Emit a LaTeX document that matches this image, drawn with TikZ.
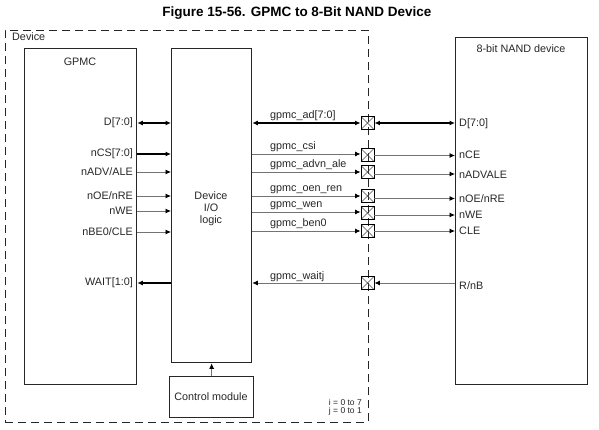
\documentclass[tikz,border=0pt]{standalone}
\usepackage{fontspec}
\setmainfont{Liberation Sans}
\usetikzlibrary{arrows.meta}
\tikzset{
  >={Latex[length=5.5pt,width=5pt,color=black]},
  box/.style={draw=black!85, line width=1.3pt, inner sep=0pt, anchor=north west},
  lbl/.style={font=\fontsize{10.8}{12}\selectfont, inner sep=0pt, text=black!85},
  sig/.style={draw=black!55, line width=0.8pt, ->},
  bus/.style={draw=black, line width=1.6pt},
  pad/.style={draw=black, line width=0.9pt, minimum width=13pt, minimum height=13pt, inner sep=0pt,
    path picture={\draw[black!70, line width=0.5pt]
      (path picture bounding box.north west) -- (path picture bounding box.south east)
      (path picture bounding box.north east) -- (path picture bounding box.south west);}}
}
\begin{document}
\begin{tikzpicture}[x=1pt,y=-1pt]
\useasboundingbox (0,0) rectangle (599,430);
% title
\node[font=\fontsize{13.5}{15}\selectfont\bfseries, inner sep=0pt] (title) at (297,13) {Figure 15-56. GPMC to 8-Bit NAND Device};
% device dashed frame
\node[draw=black!85, line width=0.9pt, dash pattern=on 8pt off 5pt, anchor=north west, inner sep=0pt,
      minimum width=363pt, minimum height=392pt] (dev) at (5,30) {};
\node[lbl, anchor=west] (devlbl) at (12,37) {Device};
% boxes
\node[box, minimum width=112pt, minimum height=336pt] (gpmc) at (24,48) {};
\node[lbl] (gpmclbl) at (80,62) {GPMC};
\node[box, minimum width=80pt, minimum height=314pt] (io) at (171,48) {};
\node[lbl, align=center, font=\fontsize{10.8}{12}\selectfont] (iolbl) at (211,209) {Device\\I/O\\logic};
\node[box, minimum width=84pt, minimum height=41pt] (ctrl) at (169,376) {};
\node[lbl] (ctrllbl) at (211,396.5) {Control module};
\node[box, minimum width=132pt, minimum height=347pt] (nand) at (455,37) {};
\node[lbl] (nandlbl) at (521,49) {8-bit NAND device};
\node[font=\fontsize{8.5}{8.5}\selectfont, align=right, inner sep=0pt, anchor=north east, text=black!85] (ij) at (362,399) {i = 0 to 7\\j = 0 to 1};
\draw[sig] (ctrl.north) -- (io.south);
% GPMC side labels
\node[lbl, anchor=east] (lD)   at (133,123) {D[7:0]};
\node[lbl, anchor=east] (lCS)  at (133,154) {nCS[7:0]};
\node[lbl, anchor=east] (lADV) at (133,172) {nADV/ALE};
\node[lbl, anchor=east] (lOE)  at (133,196) {nOE/nRE};
\node[lbl, anchor=east] (lWE)  at (133,211) {nWE};
\node[lbl, anchor=east] (lBE)  at (133,232) {nBE0/CLE};
\node[lbl, anchor=east] (lW)   at (133,283) {WAIT[1:0]};
\draw[bus, <->] (gpmc.east |- lD) -- (io.west |- lD);
\draw[bus, ->] (gpmc.east |- lCS) -- (io.west |- lCS);
\draw[sig] (gpmc.east |- lADV) -- (io.west |- lADV);
\draw[sig] (gpmc.east |- lOE) -- (io.west |- lOE);
\draw[sig] (gpmc.east |- lWE) -- (io.west |- lWE);
\draw[sig] (gpmc.east |- lBE) -- (io.west |- lBE);
\draw[bus, ->] (io.west |- lW) -- (gpmc.east |- lW);
% pads
\node[pad] (pAD)  at (367.5,123) {};
\node[pad] (pCS)  at (367.5,155) {};
\node[pad] (pADV) at (367.5,172) {};
\node[pad] (pOE)  at (367.5,196) {};
\node[pad] (pWE)  at (367.5,213) {};
\node[pad] (pBE)  at (367.5,231) {};
\node[pad] (pW)   at (367.5,283) {};
% row coordinates
\coordinate (iCS) at (0,154);   \coordinate (oCS) at (0,155.5);
\coordinate (iADV) at (0,172);  \coordinate (oADV) at (0,174);
\coordinate (iOE) at (0,196);   \coordinate (oOE) at (0,198.5);
\coordinate (iWE) at (0,212);   \coordinate (oWE) at (0,215);
% signal names
\node[lbl, anchor=base west] (sAD)  at (270,119) {gpmc\_ad[7:0]};
\node[lbl, anchor=base west] (sCS)  at (270,150) {gpmc\_csi};
\node[lbl, anchor=base west] (sADV) at (270,168) {gpmc\_advn\_ale};
\node[lbl, anchor=base west] (sOE)  at (270,192) {gpmc\_oen\_ren};
\node[lbl, anchor=base west] (sWE)  at (270,208) {gpmc\_wen};
\node[lbl, anchor=base west] (sBE)  at (270,227) {gpmc\_ben0};
\node[lbl, anchor=base west] (sW)   at (270,279) {gpmc\_waitj};
% NAND labels
\node[lbl, anchor=west] (nD)   at (459,124) {D[7:0]};
\node[lbl, anchor=west] (nCE)  at (459,155) {nCE};
\node[lbl, anchor=west] (nADV) at (459,175) {nADVALE};
\node[lbl, anchor=west] (nOE)  at (459,199) {nOE/nRE};
\node[lbl, anchor=west] (nWE)  at (459,215) {nWE};
\node[lbl, anchor=west] (nCLE) at (459,231) {CLE};
\node[lbl, anchor=west] (nRB)  at (459,286) {R/nB};
% IO -> pads
\draw[bus, <->] (io.east |- pAD) -- (pAD.west);
\draw[sig] (io.east |- iCS) -- (pCS.west |- iCS);
\draw[sig] (io.east |- iADV) -- (pADV.west |- iADV);
\draw[sig] (io.east |- iOE) -- (pOE.west |- iOE);
\draw[sig] (io.east |- iWE) -- (pWE.west |- iWE);
\draw[sig] (io.east |- pBE) -- (pBE.west);
\draw[sig] (pW.west) -- (io.east |- pW);
% pads -> NAND
\draw[bus, <->] (pAD.east) -- (nand.west |- pAD);
\draw[sig] (pCS.east |- oCS) -- (nand.west |- oCS);
\draw[sig] (pADV.east |- oADV) -- (nand.west |- oADV);
\draw[sig] (pOE.east |- oOE) -- (nand.west |- oOE);
\draw[sig] (pWE.east |- oWE) -- (nand.west |- oWE);
\draw[sig] (pBE.east) -- (nand.west |- pBE);
\draw[sig] (nand.west |- pW) -- (pW.east);
\end{tikzpicture}
\end{document}
